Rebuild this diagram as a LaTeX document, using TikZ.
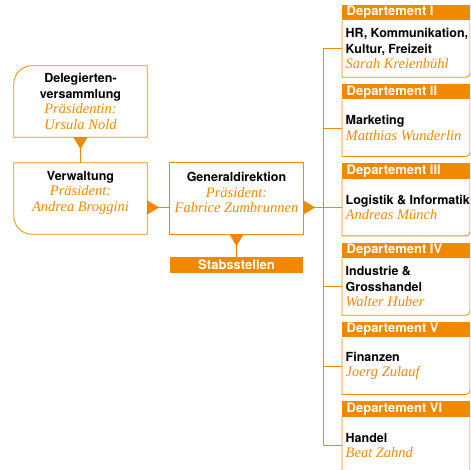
\documentclass[tikz,border=0pt]{standalone}
\usepackage{fontspec}
\newfontfamily\heros{TeX Gyre Heros}
\newfontfamily\serifit{Liberation Serif}
\usetikzlibrary{arrows.meta}
\definecolor{amber}{RGB}{240,137,0}
\newcommand{\unitfont}{\heros\bfseries\fontsize{12.5}{15.5}\selectfont}
\newcommand{\namefont}{\serifit\itshape\fontsize{14.5}{15.5}\selectfont\color{amber}}
\newcommand{\headfont}{\heros\bfseries\fontsize{13}{15}\selectfont\color{white}}

\tikzstyle{unit}=[minimum width=133pt,minimum height=71pt,inner sep=0pt]
\tikzstyle{frame}=[draw=amber,line width=0.8pt]
\tikzstyle{link}=[draw=amber,line width=0.8pt,{Triangle[reversed,length=12pt,width=14pt]}-]
\tikzstyle{bar}=[fill=amber,minimum width=133pt,minimum height=16pt,inner sep=0pt]
\tikzstyle{depthead}=[fill=amber,minimum width=127.5pt,minimum height=15.5pt,inner sep=0pt,anchor=north west]
\tikzstyle{deptbody}=[minimum width=127.5pt,minimum height=56.5pt,inner sep=0pt,anchor=north west]
\tikzstyle{txt}=[align=center,inner sep=0pt,font=\fontsize{12.5}{15.5}\selectfont]
\tikzstyle{lefttxt}=[align=left,anchor=west,inner sep=0pt,font=\fontsize{12.5}{15.5}\selectfont]

\begin{document}
\begin{tikzpicture}[x=1pt,y=1pt]
	\useasboundingbox (0,0) rectangle (470,470);
	\clip (0,0) rectangle (470,470);
	%The left units
	\node[unit] (deleg) at (80.5,368.5) {};
	\node[unit] (verw) at (80.5,271.5) {};
	\node[unit] (gen) at (236.5,271.5) {};
	\node[bar] (stab) at (236.5,205) {\headfont Stabsstellen};
	\draw[frame] (deleg.north east) -- ([xshift=18pt]deleg.north west) arc[start angle=90,end angle=180,radius=18pt]
		-- (deleg.south west) -- (deleg.south east) -- cycle;
	\draw[frame] (verw.north west) -- ([yshift=18pt]verw.south west) arc[start angle=180,end angle=270,radius=18pt]
		-- (verw.south east) -- (verw.north east) -- cycle;
	\draw[frame] (gen.south west) rectangle (gen.north east);
	\node[txt] (deleg-txt) at (deleg.center) {\unitfont Delegierten-\\\unitfont versammlung\\\namefont Präsidentin:\\\namefont Ursula Nold};
	\node[txt] (verw-txt) at ([yshift=6pt]verw.center) {\unitfont Verwaltung\\\namefont Präsident:\\\namefont Andrea Broggini};
	\node[txt] (gen-txt) at ([yshift=6pt]gen.center) {\unitfont Generaldirektion\\\namefont Präsident:\\\namefont Fabrice Zumbrunnen};
	%The departements
	\foreach \i/\nr/\what/\who in {1/I/{HR, Kommunikation,\\\unitfont Kultur, Freizeit}/{Sarah Kreienbühl},
									2/II/{Marketing}/{Matthias Wunderlin},
									3/III/{Logistik \& Informatik}/{Andreas Münch},
									4/IV/{Industrie \&\\\unitfont Grosshandel}/{Walter Huber},
									5/V/{Finanzen}/{Joerg Zulauf},
									6/VI/{Handel}/{Beat Zahnd}}
	{
		\node[depthead] (head\i) at (342,{465.5-79.3*(\i-1)}) {};
		\node[anchor=west,inner sep=0pt] (headtxt\i) at ([xshift=4.5pt]head\i.west) {\headfont Departement \nr};
		\node[deptbody] (body\i) at (head\i.south west) {};
		\draw[frame] (body\i.north west) -- (body\i.south west) -- ([xshift=-4pt]body\i.south east)
			arc[start angle=270,end angle=360,radius=4pt] -- (body\i.north east);
		\node[lefttxt] (bodytxt\i) at ([xshift=3.5pt]body\i.west) {\unitfont\what\\\namefont\who};
	}
	%The connectors
	\coordinate (bus) at (323,0);
	\draw[frame] (body1.west -| bus) -- (body6.west -| bus);
	\foreach \i in {1,2,4,5,6}
		\draw[frame] (body\i.west -| bus) -- (body\i.west);
	\draw[link] (deleg.south) -- (verw.north);
	\draw[link] (verw.east |- body3.west) -- (gen.west |- body3.west);
	\draw[link] (gen.east |- body3.west) -- (body3.west);
	\draw[link] (gen.south) -- (stab.north);
\end{tikzpicture}
\end{document}
